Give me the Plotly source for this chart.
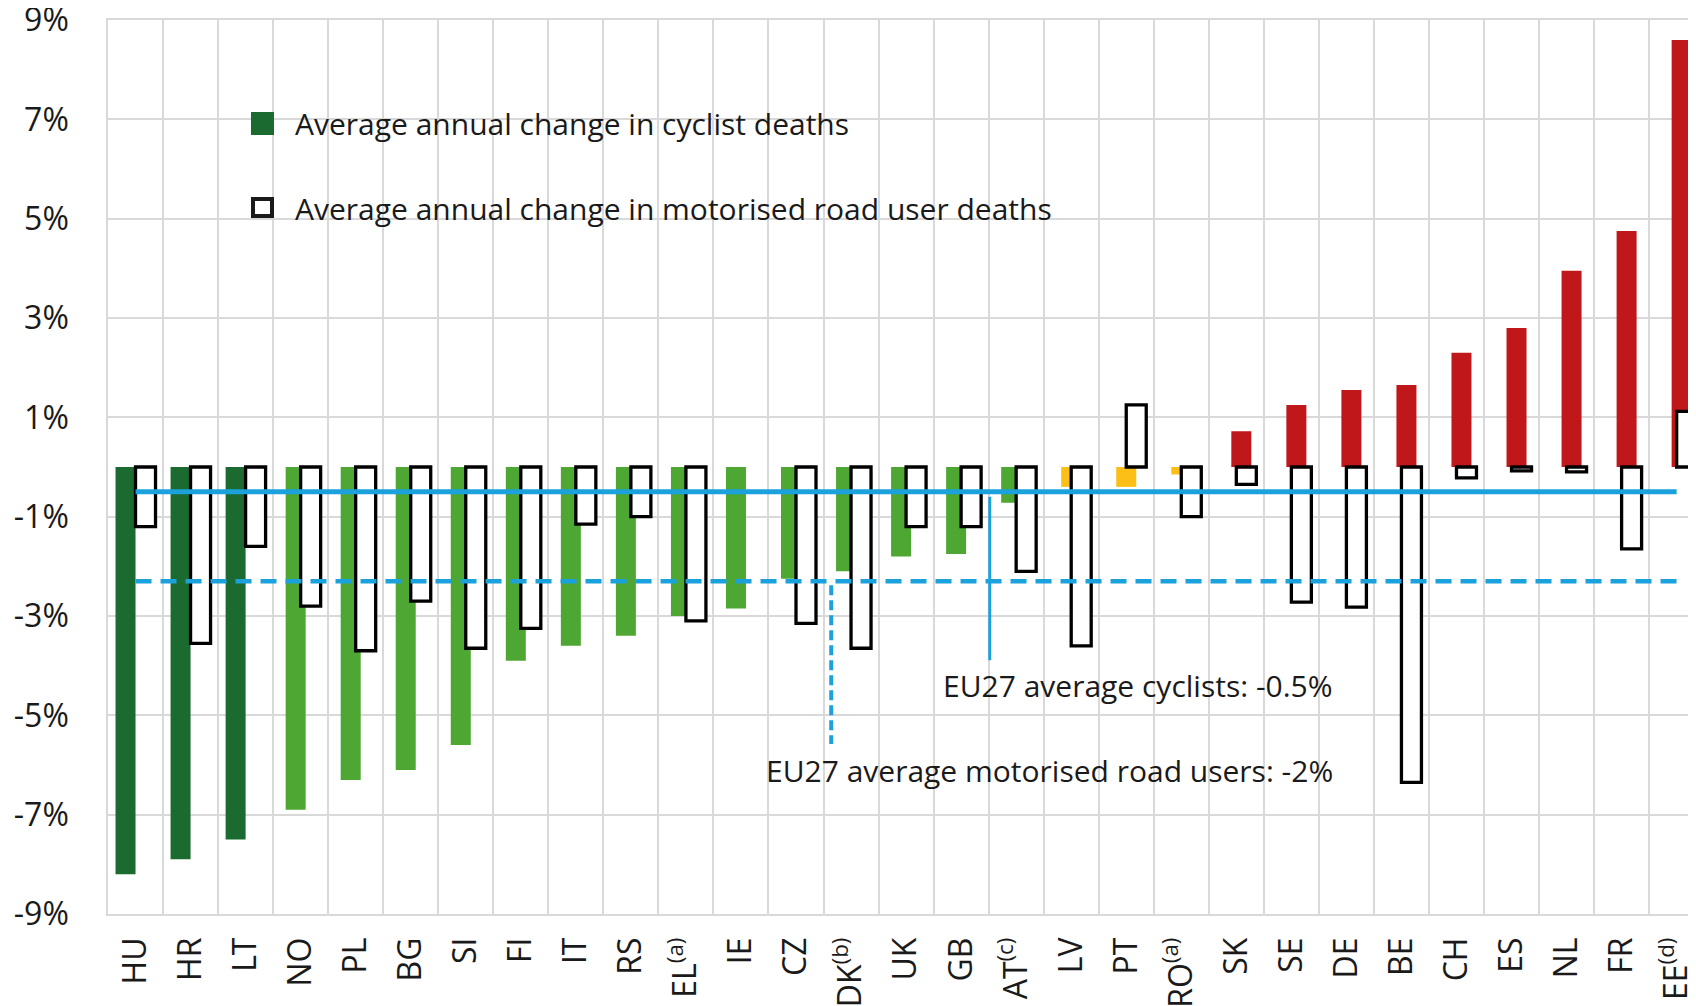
import plotly.graph_objects as go

# ---------------- data ----------------
countries = ["HU", "HR", "LT", "NO", "PL", "BG", "SI", "FI", "IT", "RS", "EL", "IE", "CZ", "DK",
             "UK", "GB", "AT", "LV", "PT", "RO", "SK", "SE", "DE", "BE", "CH", "ES", "NL", "FR", "EE"]
tick_labels = ["HU", "HR", "LT", "NO", "PL", "BG", "SI", "FI", "IT", "RS", "EL<sup>(a)</sup>", "IE", "CZ",
               "DK<sup>(b)</sup>", "UK", "GB", "AT<sup>(c)</sup>", "LV", "PT", "RO<sup>(a)</sup>", "SK", "SE",
               "DE", "BE", "CH", "ES", "NL", "FR", "EE<sup>(d)</sup>"]
cyclist_change = [-8.2, -7.9, -7.5, -6.9, -6.3, -6.1, -5.6, -3.9, -3.6, -3.4, -3.0, -2.85, -2.25, -2.1,
                  -1.8, -1.75, -0.72, -0.4, -0.4, -0.15, 0.72, 1.25, 1.55, 1.65, 2.3, 2.8, 3.95, 4.75, 8.6]
motorised_change = [-1.2, -3.55, -1.6, -2.8, -3.7, -2.7, -3.65, -3.25, -1.15, -1.0, -3.1, None, -3.15, -3.65,
                    -1.2, -1.2, -2.1, -3.6, 1.25, -1.0, -0.35, -2.72, -2.82, -6.35, -0.22, -0.08, -0.1, -1.65, 1.12]
cyclist_group = ["dark"] * 3 + ["light"] * 14 + ["yellow"] * 3 + ["red"] * 9
eu27_avg_cyclists = -0.5
eu27_avg_motorised = -2.3
y_ticks = [-9, -7, -5, -3, -1, 1, 3, 5, 7, 9]
y_tick_text = [f"{v}%" for v in y_ticks]

legend_cyclists = "Average annual change in cyclist deaths"
legend_motorised = "Average annual change in motorised road user deaths"
note_cyclists = "EU27 average cyclists: -0.5%"
note_motorised = "EU27 average motorised road users: -2%"

# ---------------- style ----------------
FONT = "Open Sans"
TXT = "#1a1a1a"
GRID = "#d9d9d9"
BLUE = "#1ba1db"
group_colors = {"dark": "#1b6b30", "light": "#4ea732", "yellow": "#fbbf16", "red": "#c0181a"}
BW = 0.3634          # bar width (category units)
STEP = 0.0908        # shift between series in the cluster
group_offsets = {"dark": -4 * STEP, "light": -3 * STEP, "yellow": -2 * STEP, "red": -1 * STEP}

W, H = 1696, 1006
OFF = 8                      # page body margin
ML, MR, MT, MB = 100, 0, 12, 100
PW, PH = W - ML - MR, H - MT - MB
CAT_PX = 55.04               # category width in pixels


def px(x):  # page x -> paper x
    return (x - OFF - ML) / PW


def py(y):  # page y -> paper y
    return (H - MB - (y - OFF)) / PH


fig = go.Figure()

for g in ["dark", "light", "yellow", "red"]:
    fig.add_trace(go.Bar(
        x=countries,
        y=[v if grp == g else None for v, grp in zip(cyclist_change, cyclist_group)],
        marker=dict(color=group_colors[g], line=dict(width=0)),
        width=BW, offset=group_offsets[g], showlegend=False,
    ))

fig.add_trace(go.Bar(
    x=countries, y=motorised_change,
    marker=dict(color="white", line=dict(color="black", width=3.3)),
    width=BW, offset=0.0, showlegend=False,
))

fig.add_trace(go.Scatter(
    x=[countries[0], countries[-1]], y=[eu27_avg_cyclists] * 2, mode="lines",
    line=dict(color=BLUE, width=5), showlegend=False,
))
fig.add_trace(go.Scatter(
    x=[countries[0], countries[-1]], y=[eu27_avg_motorised] * 2, mode="lines",
    line=dict(color=BLUE, width=4.5, dash="16px,9px"), showlegend=False,
))

# connector lines for the notes
fig.add_shape(type="line", xref="x", yref="y", x0=15.52, x1=15.52, y0=-0.6, y1=-3.89,
              line=dict(color=BLUE, width=3))
fig.add_shape(type="line", xref="x", yref="y", x0=12.64, x1=12.64, y0=-2.38, y1=-5.58,
              line=dict(color=BLUE, width=4, dash="10px,5px"))

# notes
fig.add_annotation(x=px(1335), y=py(685), xref="paper", yref="paper", text=note_cyclists,
                   showarrow=False, xanchor="right", yanchor="middle",
                   font=dict(family=FONT, size=30, color=TXT))
fig.add_annotation(x=px(1335), y=py(770), xref="paper", yref="paper", text=note_motorised,
                   showarrow=False, xanchor="right", yanchor="middle",
                   font=dict(family=FONT, size=30, color=TXT))

# manual legend
fig.add_shape(type="rect", xref="paper", yref="paper", x0=px(251), x1=px(274), y0=py(135), y1=py(112),
              fillcolor=group_colors["dark"], line=dict(width=0))
fig.add_shape(type="rect", xref="paper", yref="paper", x0=px(253), x1=px(272), y0=py(216), y1=py(199),
              fillcolor="white", line=dict(color="#1a1a1a", width=4))
fig.add_annotation(x=px(293), y=py(124), xref="paper", yref="paper", text=legend_cyclists,
                   showarrow=False, xanchor="left", yanchor="middle",
                   font=dict(family=FONT, size=30, color=TXT))
fig.add_annotation(x=px(293), y=py(209), xref="paper", yref="paper", text=legend_motorised,
                   showarrow=False, xanchor="left", yanchor="middle",
                   font=dict(family=FONT, size=30, color=TXT))

fig.update_layout(
    width=W, height=H,
    margin=dict(l=ML, r=MR, t=MT, b=MB, pad=0, autoexpand=False),
    paper_bgcolor="white", plot_bgcolor="white",
    barmode="overlay",
    font=dict(family=FONT, size=30, color=TXT),
    xaxis=dict(
        type="category", categoryorder="array", categoryarray=countries,
        tickvals=countries, ticktext=tick_labels,
        range=[-0.5, -0.5 + PW / CAT_PX],
        tickson="boundaries", showgrid=True, gridcolor=GRID, gridwidth=1.5,
        showline=True, linecolor=GRID, linewidth=1.5, mirror=True,
        ticks="", tickangle=-90, ticklabelstandoff=9, automargin=False,
        ticklabeloverflow="allow",
        tickfont=dict(family=FONT, size=32, color=TXT),
        fixedrange=True,
    ),
    yaxis=dict(
        range=[-9.0005, 9.0005], tickvals=y_ticks, ticktext=y_tick_text,
        showgrid=True, gridcolor=GRID, gridwidth=1.5, zeroline=False,
        showline=True, linecolor=GRID, linewidth=1.5,
        ticks="", ticklabelstandoff=31, automargin=False,
        ticklabeloverflow="allow",
        tickfont=dict(family=FONT, size=32, color=TXT),
        fixedrange=True,
    ),
)

fig.write_html("out.html")
